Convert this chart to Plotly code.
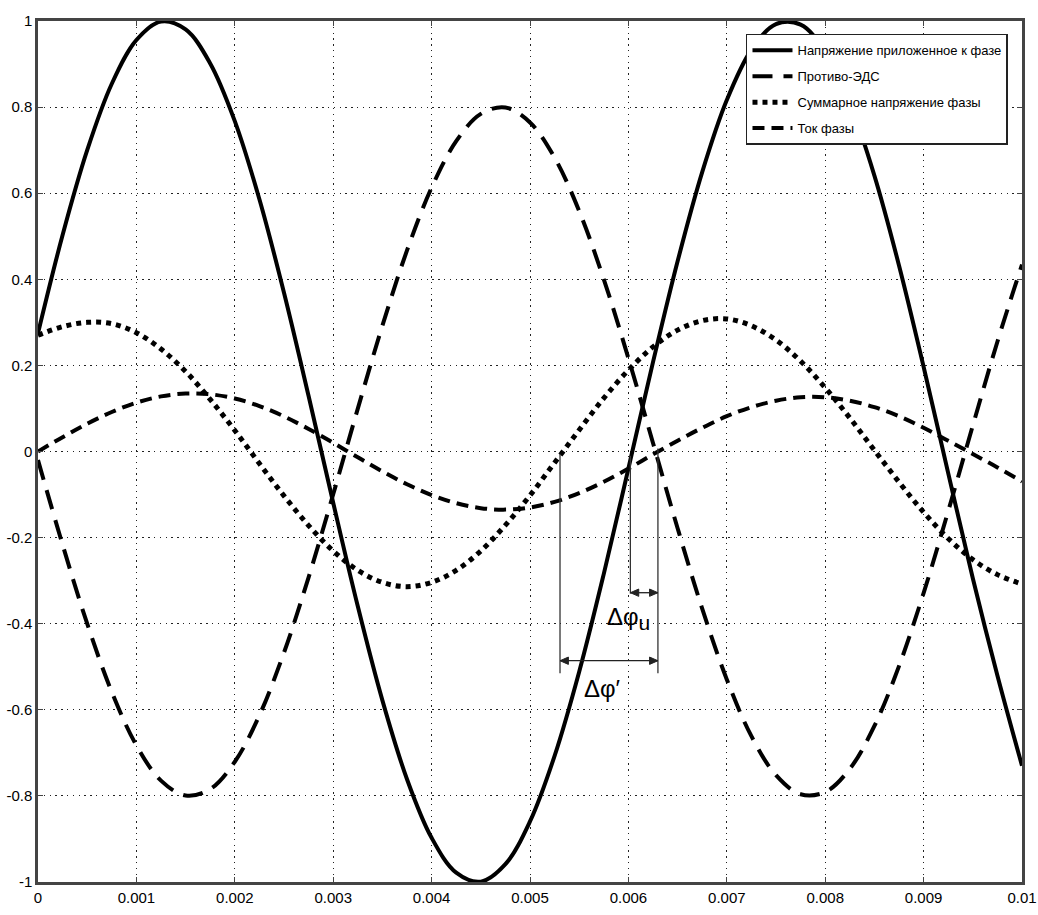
import plotly.graph_objects as go

# time axis (s)
t = [round(i * 0.00025, 5) for i in range(41)]

u_applied = [0.2748, 0.5029, 0.6999, 0.8542, 0.9558, 0.9988, 0.9803, 0.9015, 0.7675, 0.5860,
             0.3687, 0.1288, -0.1191, -0.3597, -0.5781, -0.7612, -0.8974, -0.9783, -0.9992, -0.9587,
             -0.8593, -0.7070, -0.5115, -0.2842, -0.0396, 0.2075, 0.4418, 0.6489, 0.8163, 0.9332,
             0.9929, 0.9916, 0.9293, 0.8100, 0.6408, 0.4322, 0.1970, -0.0502, -0.2944, -0.5203,
             -0.7300]

back_emf = [-0.020, -0.2166, -0.400, -0.5586, -0.6826, -0.7645, -0.7990, -0.7841, -0.7207, -0.6128,
            -0.4670, -0.2922, -0.0994, 0.0996, 0.2922, 0.4670, 0.6129, 0.7208, 0.7842, 0.7990,
            0.7644, 0.6826, 0.5586, 0.3999, 0.2166, 0.0198, -0.1782, -0.3650, -0.5294, -0.6613,
            -0.7518, -0.7961, -0.7910, -0.7371, -0.6376, -0.4986, -0.3288, -0.1386, 0.0601, 0.2550,
            0.4343]

u_total = [0.270, 0.290, 0.300, 0.297, 0.276, 0.238, 0.186, 0.121, 0.049, -0.028,
           -0.103, -0.172, -0.231, -0.276, -0.304, -0.314, -0.304, -0.276, -0.231, -0.171,
           -0.102, -0.026, 0.050, 0.124, 0.189, 0.243, 0.282, 0.304, 0.308, 0.292,
           0.259, 0.210, 0.148, 0.078, 0.003, -0.071, -0.141, -0.202, -0.251, -0.286,
           -0.308]

i_phase = [0.0, 0.0333, 0.0646, 0.0918, 0.1134, 0.1280, 0.1346, 0.1329, 0.1231, 0.1055,
           0.0815, 0.0524, 0.0201, -0.0135, -0.0462, -0.0761, -0.1012, -0.1201, -0.1316, -0.1350,
           -0.1300, -0.1169, -0.0966, -0.0704, -0.0398, -0.0067, 0.025, 0.055, 0.082, 0.103,
           0.118, 0.126, 0.126, 0.118, 0.103, 0.082, 0.055, 0.025, -0.006, -0.037,
           -0.070]

names = ["Напряжение приложенное к фазе", "Противо-ЭДС",
         "Суммарное напряжение фазы", "Ток фазы"]

x_ticks = [0, 0.001, 0.002, 0.003, 0.004, 0.005, 0.006, 0.007, 0.008, 0.009, 0.01]
x_ticktext = ["0", "0.001", "0.002", "0.003", "0.004", "0.005", "0.006", "0.007", "0.008", "0.009", "0.01"]
y_ticks = [-1, -0.8, -0.6, -0.4, -0.2, 0, 0.2, 0.4, 0.6, 0.8, 1]
y_ticktext = ["-1", "-0.8", "-0.6", "-0.4", "-0.2", "0", "0.2", "0.4", "0.6", "0.8", "1"]

FONT = "Liberation Sans, Arial, sans-serif"

fig = go.Figure()
styles = [
    dict(dash="solid", width=4),
    dict(dash="20px,11px", width=4),
    dict(dash="5px,5px", width=5),
    dict(dash="12px,7px", width=4),
]
for k, (ys, nm, st) in enumerate(zip([u_applied, back_emf, u_total, i_phase], names, styles)):
    fig.add_trace(go.Scatter(x=t, y=ys, name=nm, mode="lines", legendgroup="g%d" % k,
                             line=dict(color="black", shape="spline", smoothing=1.0, **st)))

# phase-shift markers
line_style = dict(color="#333333", width=1.3)
fig.add_shape(type="line", xref="x", yref="y", x0=0.005305, x1=0.005305, y0=-0.005, y1=-0.515, line=line_style)
fig.add_shape(type="line", xref="x", yref="y", x0=0.0063, x1=0.0063, y0=0.007, y1=-0.515, line=line_style)
fig.add_shape(type="line", xref="x", yref="y", x0=0.00602, x1=0.00602, y0=-0.01, y1=-0.33, line=line_style)

# double-headed arrows (line + two filled heads)
hx = 0.000085
hy = 0.0085
for (xa, xb, yv) in [(0.00602, 0.0063, -0.328), (0.005305, 0.0063, -0.486)]:
    fig.add_shape(type="line", xref="x", yref="y", x0=xa, x1=xb, y0=yv, y1=yv,
                  line=dict(color="#222222", width=1.3))
    fig.add_shape(type="path", xref="x", yref="y",
                  path="M %f %f L %f %f L %f %f Z" % (xa, yv, xa + hx, yv + hy, xa + hx, yv - hy),
                  fillcolor="#222222", line=dict(color="#222222", width=1))
    fig.add_shape(type="path", xref="x", yref="y",
                  path="M %f %f L %f %f L %f %f Z" % (xb, yv, xb - hx, yv + hy, xb - hx, yv - hy),
                  fillcolor="#222222", line=dict(color="#222222", width=1))

fig.add_annotation(x=0.00600, y=-0.388, xref="x", yref="y", showarrow=False,
                   text="Δφ<sub><span style='font-size:21px'>u</span></sub>",
                   font=dict(family=FONT, size=24, color="black"))
fig.add_annotation(x=0.00574, y=-0.550, xref="x", yref="y", showarrow=False,
                   text="Δφ′", font=dict(family=FONT, size=24, color="black"))

axis_common = dict(showgrid=True, gridcolor="#222222", gridwidth=1.3, griddash="1.3px,4.5px",
                   zeroline=False, showline=True, linecolor="#444444", linewidth=2.5, mirror="ticks",
                   ticks="inside", ticklen=5, tickcolor="#444444", automargin=False,
                   tickfont=dict(family=FONT, size=15, color="black"))
fig.update_xaxes(range=[0, 0.01], tickvals=x_ticks, ticktext=x_ticktext, **axis_common)
fig.update_yaxes(range=[-1, 1], tickvals=y_ticks, ticktext=y_ticktext, **axis_common)

fig.update_layout(
    width=1038, height=915,
    margin=dict(l=38, r=16, t=21, b=33),
    paper_bgcolor="white", plot_bgcolor="white",
    showlegend=True,
    legend=dict(x=0.7195, y=0.985, xanchor="left", yanchor="top",
                bgcolor="white", bordercolor="#222222", borderwidth=1.5,
                font=dict(family=FONT, size=13, color="black"),
                tracegroupgap=6, itemwidth=40),
)

# remove the default page margin so the figure sits at the window's top-left corner
fig.write_html("out.html", config={"displayModeBar": False},
               post_script="document.body.style.margin='0px';document.body.style.overflow='hidden';")
